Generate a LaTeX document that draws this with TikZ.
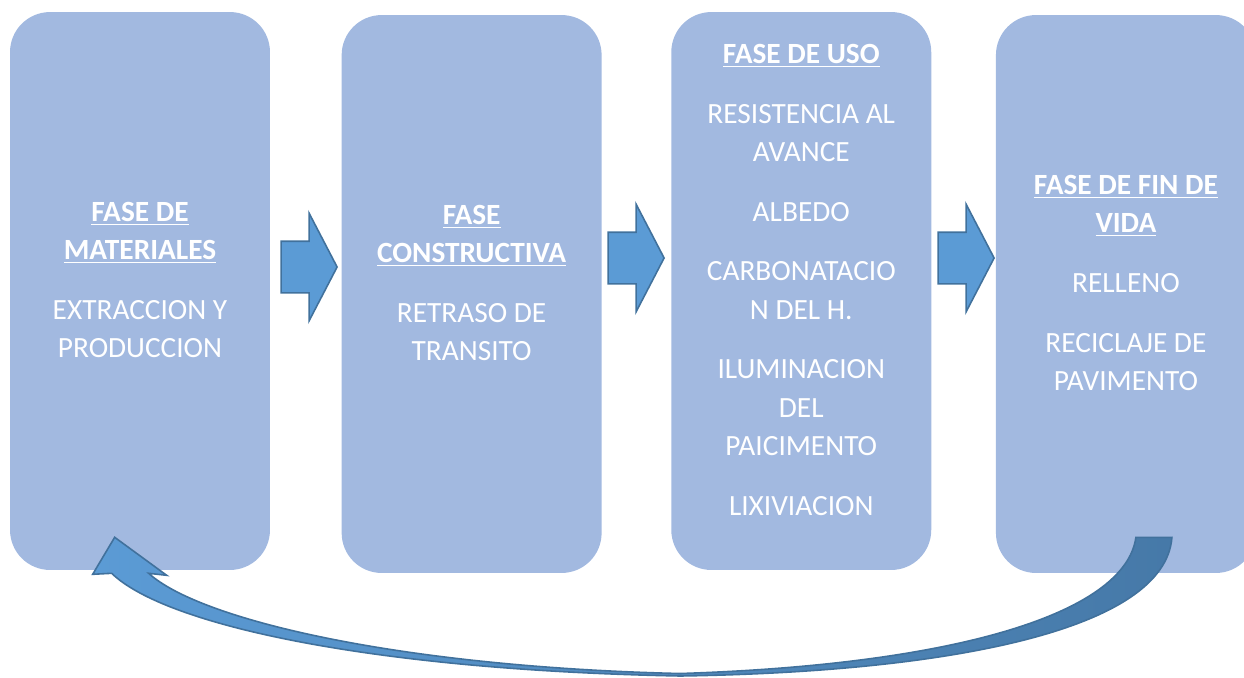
\documentclass[tikz,border=0pt]{standalone}
\usepackage{fontspec}
\setmainfont{Carlito}
\usepackage{tikz}
\usetikzlibrary{positioning,calc,shapes.arrows}
\definecolor{boxblue}{RGB}{162,185,224}
\definecolor{arrowblue}{RGB}{91,155,213}
\definecolor{arrowedge}{RGB}{65,113,156}
\definecolor{arrowdark}{RGB}{70,121,168}

\begin{document}
\begin{tikzpicture}[
  x=0.02cm, y=-0.02cm,
  phase/.style={rectangle, rounded corners=0.8cm, fill=boxblue,
                minimum width=5.2cm, minimum height=11.16cm, inner sep=0pt},
  txt/.style={text=white, align=center, inner sep=0pt,
              font=\fontsize{16.7}{21.9}\selectfont},
  blockarr/.style={single arrow, draw=arrowedge, fill=arrowblue,
                   line width=0.9pt, inner xsep=0pt, inner ysep=0.5cm,
                   minimum height=1.12cm, single arrow head extend=0.56cm,
                   single arrow tip angle=125, anchor=tip},
  curvearr/.style={draw=arrowedge, line width=0.9pt, left color=arrowblue,
                   right color=arrowdark, line join=miter}
]
\useasboundingbox (0,0) rectangle (1244,677);

% the four phases
\node[phase] (mat) at (140,291) {};
\node[phase, right=1.42cm of mat, yshift=-0.06cm] (cons) {};
\node[phase, right=1.38cm of cons, yshift=0.06cm] (uso) {};
\node[phase, right=1.28cm of uso, yshift=-0.06cm] (fin) {};

\node[txt] (matT) at ($(mat.center)+(0,-11)$)
  {\underline{\textbf{FASE DE}}\\\underline{\textbf{MATERIALES}}\\[12pt]
   EXTRACCION Y\\PRODUCCION};
\node[txt] (consT) at ($(cons.center)+(0,-11)$)
  {\underline{\textbf{FASE}}\\\underline{\textbf{CONSTRUCTIVA}}\\[12pt]
   RETRASO DE\\TRANSITO};
\node[txt] (usoT) at ($(uso.center)+(0,-11)$)
  {\underline{\textbf{FASE DE USO}}\\[12pt]
   RESISTENCIA AL\\AVANCE\\[12pt]
   ALBEDO\\[12pt]
   CARBONATACIO\\N DEL H.\\[12pt]
   ILUMINACION\\DEL\\PAICIMENTO\\[12pt]
   LIXIVIACION};
\node[txt] (finT) at ($(fin.center)+(0,-11)$)
  {\underline{\textbf{FASE DE FIN DE}}\\\underline{\textbf{VIDA}}\\[12pt]
   RELLENO\\[12pt]
   RECICLAJE DE\\PAVIMENTO};

% block arrows between phases
\node[blockarr] (a1) at (338,267) {};
\node[blockarr] (a2) at (665,258) {};
\node[blockarr] (a3) at (995,258) {};

% return arrow, end of life back to materials
\coordinate (tailL) at ($(fin.south)+(10,-36)$);
\coordinate (tailR) at ($(fin.south)+(46,-36)$);
\coordinate (tip)   at ($(mat.south west)+(105,-33)$);
\coordinate (wingL) at ($(mat.south west)+(83,4)$);
\coordinate (wingR) at ($(mat.south west)+(157,5)$);
\coordinate (neckL) at ($(mat.south west)+(102,3)$);
\coordinate (neckR) at ($(mat.south west)+(139,3)$);

\path[curvearr] (neckL) .. controls (165,625) and (370,670) .. (680,676)
  .. controls (950,672) and (1165,630) .. (tailR) -- (tailL)
  .. controls (1125,615) and (950,665) .. (680,673.5)
  .. controls (400,667) and (200,620) .. (neckR)
  -- (wingR) -- (tip) -- (wingL) -- cycle;

\end{tikzpicture}
\end{document}
